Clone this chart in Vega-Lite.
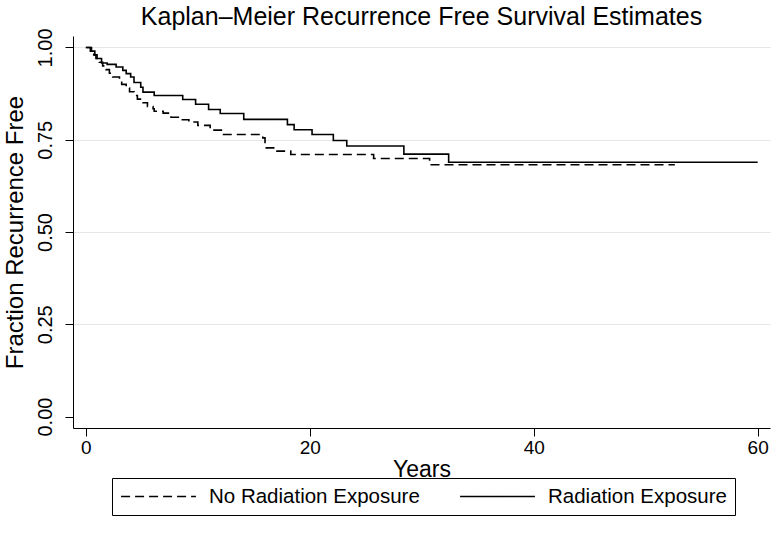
{
  "$schema": "https://vega.github.io/schema/vega-lite/v6.json",
  "autosize": {"type": "none"},
  "width": 697,
  "height": 392,
  "padding": {"left": 73, "top": 36, "right": 3, "bottom": 105},
  "background": "white",
  "config": {
    "font": "Liberation Sans",
    "view": {"stroke": null},
    "axis": {"labelFont": "Liberation Sans", "titleFont": "Liberation Sans", "labelColor": "black", "titleColor": "black", "domainColor": "black", "tickColor": "black", "titleFontWeight": "normal"}
  },
  "title": {"text": "Kaplan–Meier Recurrence Free Survival Estimates", "fontSize": 25, "fontWeight": "normal", "font": "Liberation Sans", "color": "black", "anchor": "middle", "frame": "group", "offset": -2},
  "data": {"values": [
    {"group": "No Radiation Exposure", "t": 0, "s": 1.0},
    {"group": "No Radiation Exposure", "t": 0.4, "s": 0.99},
    {"group": "No Radiation Exposure", "t": 0.7, "s": 0.98},
    {"group": "No Radiation Exposure", "t": 0.9, "s": 0.97},
    {"group": "No Radiation Exposure", "t": 1.2, "s": 0.96},
    {"group": "No Radiation Exposure", "t": 1.5, "s": 0.95},
    {"group": "No Radiation Exposure", "t": 1.8, "s": 0.94},
    {"group": "No Radiation Exposure", "t": 2.1, "s": 0.93},
    {"group": "No Radiation Exposure", "t": 2.4, "s": 0.92},
    {"group": "No Radiation Exposure", "t": 3.0, "s": 0.91},
    {"group": "No Radiation Exposure", "t": 3.2, "s": 0.90},
    {"group": "No Radiation Exposure", "t": 3.6, "s": 0.89},
    {"group": "No Radiation Exposure", "t": 3.9, "s": 0.88},
    {"group": "No Radiation Exposure", "t": 4.3, "s": 0.87},
    {"group": "No Radiation Exposure", "t": 4.6, "s": 0.86},
    {"group": "No Radiation Exposure", "t": 5.1, "s": 0.85},
    {"group": "No Radiation Exposure", "t": 5.5, "s": 0.84},
    {"group": "No Radiation Exposure", "t": 6.0, "s": 0.834},
    {"group": "No Radiation Exposure", "t": 6.1, "s": 0.827},
    {"group": "No Radiation Exposure", "t": 6.9, "s": 0.822},
    {"group": "No Radiation Exposure", "t": 7.6, "s": 0.811},
    {"group": "No Radiation Exposure", "t": 8.5, "s": 0.804},
    {"group": "No Radiation Exposure", "t": 9.2, "s": 0.798},
    {"group": "No Radiation Exposure", "t": 10.0, "s": 0.789},
    {"group": "No Radiation Exposure", "t": 11.1, "s": 0.776},
    {"group": "No Radiation Exposure", "t": 12.2, "s": 0.764},
    {"group": "No Radiation Exposure", "t": 15.8, "s": 0.755},
    {"group": "No Radiation Exposure", "t": 16.0, "s": 0.728},
    {"group": "No Radiation Exposure", "t": 16.9, "s": 0.719},
    {"group": "No Radiation Exposure", "t": 18.3, "s": 0.710},
    {"group": "No Radiation Exposure", "t": 25.7, "s": 0.699},
    {"group": "No Radiation Exposure", "t": 30.7, "s": 0.682},
    {"group": "No Radiation Exposure", "t": 52.6, "s": 0.682},
    {"group": "Radiation Exposure", "t": 0, "s": 1.0},
    {"group": "Radiation Exposure", "t": 0.5, "s": 0.99},
    {"group": "Radiation Exposure", "t": 0.8, "s": 0.98},
    {"group": "Radiation Exposure", "t": 1.0, "s": 0.97},
    {"group": "Radiation Exposure", "t": 1.4, "s": 0.958},
    {"group": "Radiation Exposure", "t": 1.9, "s": 0.954},
    {"group": "Radiation Exposure", "t": 2.7, "s": 0.947},
    {"group": "Radiation Exposure", "t": 3.3, "s": 0.938},
    {"group": "Radiation Exposure", "t": 3.6, "s": 0.929},
    {"group": "Radiation Exposure", "t": 4.0, "s": 0.920},
    {"group": "Radiation Exposure", "t": 4.3, "s": 0.905},
    {"group": "Radiation Exposure", "t": 4.9, "s": 0.892},
    {"group": "Radiation Exposure", "t": 5.1, "s": 0.879},
    {"group": "Radiation Exposure", "t": 6.1, "s": 0.870},
    {"group": "Radiation Exposure", "t": 8.65, "s": 0.859},
    {"group": "Radiation Exposure", "t": 9.8, "s": 0.846},
    {"group": "Radiation Exposure", "t": 10.96, "s": 0.832},
    {"group": "Radiation Exposure", "t": 12.0, "s": 0.821},
    {"group": "Radiation Exposure", "t": 14.1, "s": 0.805},
    {"group": "Radiation Exposure", "t": 18.0, "s": 0.791},
    {"group": "Radiation Exposure", "t": 18.6, "s": 0.777},
    {"group": "Radiation Exposure", "t": 20.2, "s": 0.764},
    {"group": "Radiation Exposure", "t": 22.1, "s": 0.748},
    {"group": "Radiation Exposure", "t": 23.3, "s": 0.733},
    {"group": "Radiation Exposure", "t": 28.4, "s": 0.711},
    {"group": "Radiation Exposure", "t": 32.4, "s": 0.689},
    {"group": "Radiation Exposure", "t": 60.0, "s": 0.689}
  ]},
  "mark": {"type": "line", "interpolate": "step-after", "color": "black", "strokeWidth": 1.6},
  "encoding": {
    "x": {"field": "t", "type": "quantitative", "scale": {"domain": [-1.15, 61.1], "nice": false, "zero": false},
      "axis": {"title": "Years", "values": [0, 20, 40, 60], "grid": false, "labelFontSize": 19, "titleFontSize": 23, "tickSize": 8, "labelPadding": 2, "titlePadding": 1, "labelFlush": false}},
    "y": {"field": "s", "type": "quantitative", "scale": {"domain": [-0.031, 1.031], "nice": false, "zero": false},
      "axis": {"title": "Fraction Recurrence Free", "values": [0, 0.25, 0.5, 0.75, 1], "format": ".2f", "labelAngle": -90, "labelFontSize": 20, "titleFontSize": 24, "tickSize": 8, "labelPadding": 10, "titlePadding": 8, "labelFlush": false,
        "grid": true, "gridColor": {"condition": {"test": "datum.value === 0", "value": "transparent"}, "value": "#e6e6e6"}, "gridWidth": 1.2}},
    "strokeDash": {"field": "group", "type": "nominal",
      "scale": {"domain": ["No Radiation Exposure", "Radiation Exposure"], "range": [[9, 5], [1, 0]]},
      "legend": {"title": null, "orient": "none", "legendX": 39, "legendY": 442, "direction": "horizontal", "columns": 2,
        "strokeColor": "black", "fillColor": "white", "padding": 8, "symbolType": "M-4,0H4", "symbolSize": 350, "symbolOffset": 28, "symbolStrokeColor": "black", "symbolStrokeWidth": 1.6,
        "labelFontSize": 20.5, "labelFont": "Liberation Sans", "labelColor": "black", "labelOffset": 40, "columnPadding": 36, "labelLimit": 400}}
  }
}
